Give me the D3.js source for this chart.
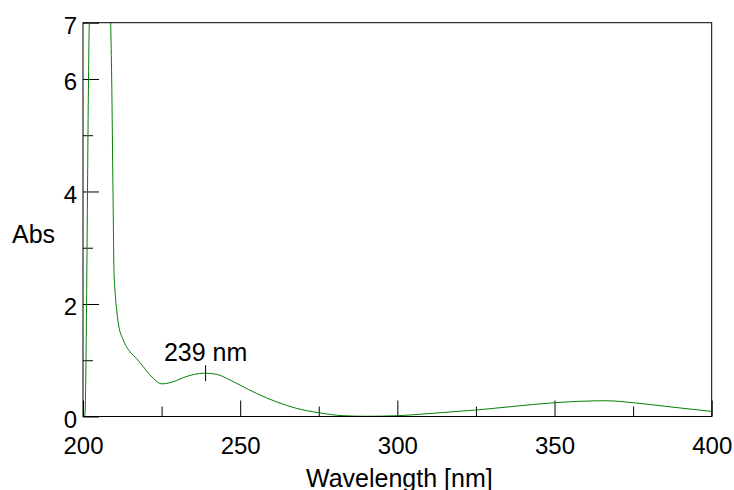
<!DOCTYPE html>
<html>
<head>
<meta charset="utf-8">
<script src="https://cdn.jsdelivr.net/npm/d3@7"></script>
<style>
  html, body { margin: 0; padding: 0; background: #fff; }
  svg { display: block; font-family: "Liberation Sans", Arial, sans-serif; }
</style>
</head>
<body>
<svg id="chart" width="734" height="490"></svg>
<script>
// ---- Data ----
const wavelength = [200.0, 200.6, 202.0, 202.3, 208.6, 208.81, 209.13, 209.54, 209.86, 210.17, 210.72, 211.22, 212.81, 214.94, 217.07, 219.17, 222.35, 225.0,
  229.8, 231.9, 235.5, 238.8, 242.5, 246.7, 249.9, 255.2, 261.6, 267.9, 274.9, 282.8, 290.2, 299.9, 308.2, 316.7,
  325.0, 337.0, 350.0, 358.0, 366.5, 375.0, 387.0, 400.0];
const absorbance = [0.0, 0.02, 7.0, 7.6, 7.6, 7.0, 6.0, 4.0, 2.6, 2.25, 1.89, 1.66, 1.36, 1.15, 1.03, 0.885, 0.68, 0.58,
  0.64, 0.69, 0.75, 0.77, 0.75, 0.65, 0.56, 0.41, 0.26, 0.145, 0.068, 0.014, 0.004, 0.014, 0.044, 0.08,
  0.115, 0.18, 0.245, 0.27, 0.28, 0.245, 0.17, 0.09];
const xMajorTicks = [200, 250, 300, 350, 400];
const xMinorTicks = [225, 275, 325, 375];
const yMajorTicks = [0, 2, 4, 6, 7];
const yMinorTicks = [1, 3, 5];
const peakWavelength = 239;
const peakAbs = 0.77;
const peakLabel = "239 nm";
const xTitle = "Wavelength [nm]";
const yTitle = "Abs";

// ---- Layout ----
const svg = d3.select("#chart");
const L = 83, R = 711.7, T = 22.7, B = 416.5;
const x = d3.scaleLinear().domain([200, 400]).range([L, R]);
const y = d3.scaleLinear().domain([0, 7]).range([B, T]);

svg.append("defs").append("clipPath").attr("id", "clip")
  .append("rect").attr("x", L).attr("y", T).attr("width", R - L).attr("height", B - T);

// X axis major
const gx = svg.append("g").attr("transform", `translate(0,${B})`)
  .call(d3.axisBottom(x).tickValues(xMajorTicks).tickSize(-16).tickPadding(20).tickFormat(d3.format("d")));
gx.select(".domain").remove();
gx.selectAll("text").attr("font-size", 24).attr("fill", "#000").attr("font-family", "Liberation Sans, Arial, sans-serif");
gx.selectAll("line").attr("stroke", "#000");

const gxm = svg.append("g").attr("transform", `translate(0,${B})`)
  .call(d3.axisBottom(x).tickValues(xMinorTicks).tickSize(-10).tickFormat(""));
gxm.select(".domain").remove();
gxm.selectAll("line").attr("stroke", "#000");

// Y axis major
const gy = svg.append("g").attr("transform", `translate(${L},0)`)
  .call(d3.axisLeft(y).tickValues(yMajorTicks).tickSize(-16).tickPadding(6).tickFormat(d3.format("d")));
gy.select(".domain").remove();
gy.selectAll("text").attr("font-size", 24).attr("fill", "#000").attr("dy", "0.44em")
  .attr("font-family", "Liberation Sans, Arial, sans-serif");
gy.selectAll("line").attr("stroke", "#000");

const gym = svg.append("g").attr("transform", `translate(${L},0)`)
  .call(d3.axisLeft(y).tickValues(yMinorTicks).tickSize(-10).tickFormat(""));
gym.select(".domain").remove();
gym.selectAll("line").attr("stroke", "#000");

// Curve
const line = d3.line().x((d, i) => x(wavelength[i])).y(d => y(d)).curve(d3.curveMonotoneX);
svg.append("path").attr("clip-path", "url(#clip)")
  .attr("d", line(absorbance))
  .attr("fill", "none").attr("stroke", "#008000").attr("stroke-width", 1);

// Frame
svg.append("rect").attr("x", L).attr("y", T).attr("width", R - L).attr("height", B - T)
  .attr("fill", "none").attr("stroke", "#000").attr("stroke-width", 1);

// Peak marker
svg.append("line")
  .attr("x1", x(peakWavelength)).attr("x2", x(peakWavelength))
  .attr("y1", y(peakAbs) - 8).attr("y2", y(peakAbs) + 8)
  .attr("stroke", "#000").attr("stroke-width", 1);
svg.append("text").attr("x", x(peakWavelength)).attr("y", y(peakAbs) - 12.6)
  .attr("text-anchor", "middle").attr("font-size", 25).attr("fill", "#000").text(peakLabel);

// Titles
svg.append("text").attr("x", (L + R) / 2 + 2).attr("y", 487)
  .attr("text-anchor", "middle").attr("font-size", 25).attr("fill", "#000").text(xTitle);
svg.append("text").attr("x", 12).attr("y", 243)
  .attr("text-anchor", "start").attr("font-size", 25).attr("fill", "#000").text(yTitle);
</script>
</body>
</html>
